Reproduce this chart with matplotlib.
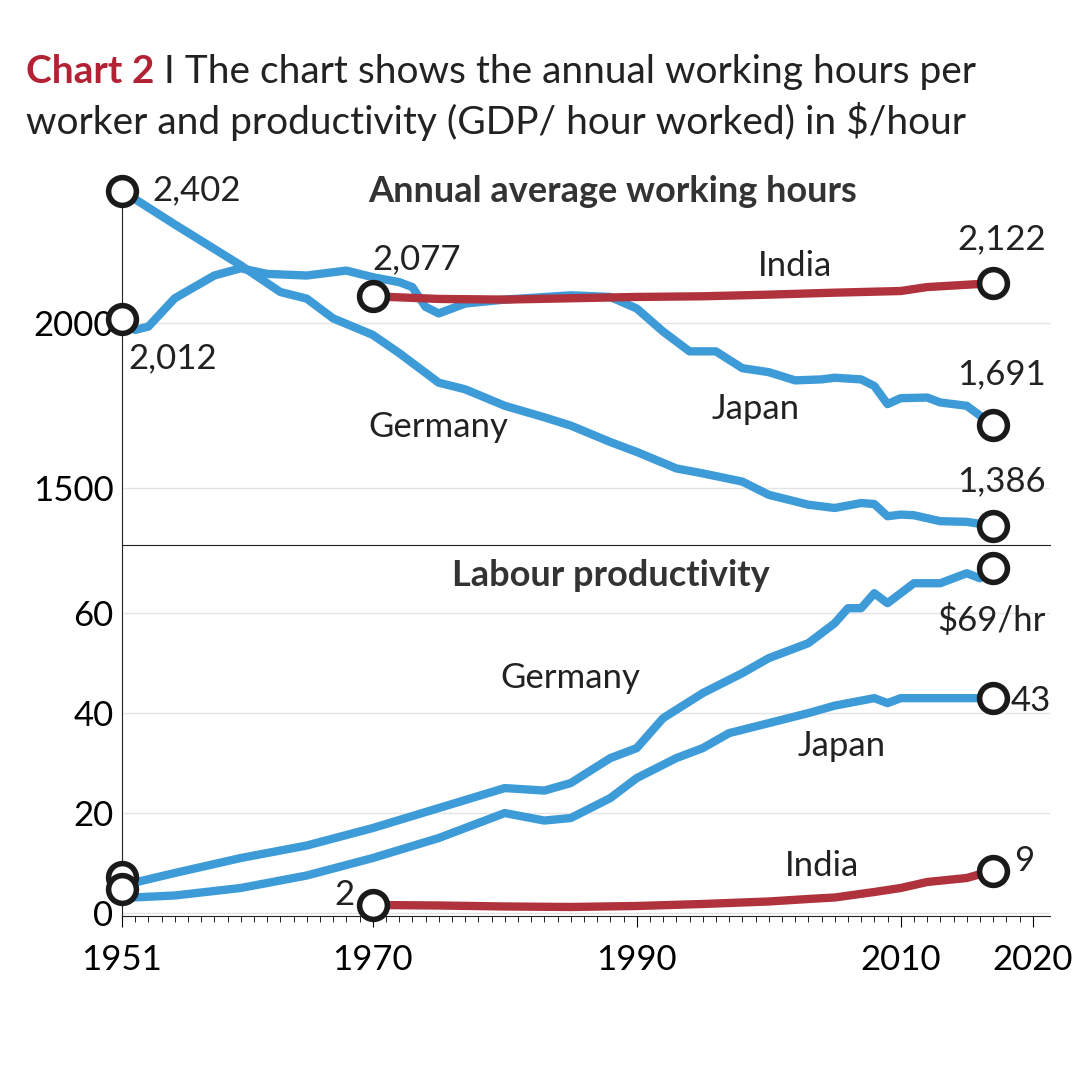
import numpy as np
import matplotlib.pyplot as plt

plt.rcParams['font.family'] = ['Lato', 'DejaVu Sans']

BLUE = '#3d9bd8'
RED = '#b0323c'

# Annual working hours
ger_h_years = [1951, 1955, 1960, 1963, 1965, 1967, 1970, 1972, 1975, 1977, 1980, 1983, 1985, 1988, 1990,
               1993, 1995, 1998, 2000, 2003, 2005, 2007, 2008, 2009, 2010, 2011, 2013, 2015, 2017]
ger_h = [2402, 2300, 2176, 2095, 2075, 2015, 1965, 1910, 1820, 1800, 1750, 1715, 1690, 1640, 1610,
         1560, 1545, 1520, 1480, 1450, 1440, 1455, 1452, 1415, 1420, 1418, 1400, 1398, 1386]
jpn_h_years = [1951, 1952, 1953, 1955, 1958, 1960, 1962, 1965, 1968, 1970, 1972, 1973, 1974, 1975, 1977,
               1980, 1985, 1988, 1990, 1992, 1994, 1996, 1998, 2000, 2002, 2004, 2005, 2007, 2008,
               2009, 2010, 2012, 2013, 2015, 2017]
jpn_h = [2012, 1980, 1990, 2076, 2145, 2167, 2150, 2145, 2160, 2140, 2125, 2110, 2050, 2030, 2060,
         2072, 2085, 2080, 2045, 1975, 1915, 1915, 1864, 1852, 1827, 1830, 1835, 1830, 1810,
         1755, 1773, 1775, 1760, 1750, 1691]
ind_h_years = [1970, 1975, 1980, 1985, 1990, 1995, 2000, 2005, 2010, 2012, 2015, 2017]
ind_h = [2082, 2074, 2072, 2076, 2080, 2082, 2087, 2093, 2098, 2110, 2117, 2122]

# Labour productivity ($/hour)
ger_p_years = [1951, 1955, 1960, 1965, 1970, 1975, 1980, 1983, 1985, 1988, 1990, 1992, 1995, 1998,
               2000, 2003, 2005, 2006, 2007, 2008, 2009, 2011, 2013, 2015, 2016, 2017]
ger_p = [5.5, 8, 11, 13.5, 17, 21, 25, 24.5, 26, 31, 33, 39, 44, 48, 51, 54, 58, 61, 61, 64, 62,
         66, 66, 68, 67, 69]
jpn_p_years = [1951, 1955, 1960, 1965, 1970, 1975, 1980, 1983, 1985, 1988, 1990, 1993, 1995, 1997,
               2000, 2003, 2005, 2008, 2009, 2010, 2012, 2014, 2016, 2017]
jpn_p = [3, 3.5, 5, 7.5, 11, 15, 20, 18.5, 19, 23, 27, 31, 33, 36, 38, 40, 41.5, 43, 42, 43,
         43, 43, 43, 43]
ind_p_years = [1970, 1975, 1980, 1985, 1990, 1995, 2000, 2003, 2005, 2008, 2010, 2012, 2015, 2017]
ind_p = [1.6, 1.5, 1.3, 1.2, 1.4, 1.8, 2.3, 2.8, 3.1, 4.2, 5, 6.2, 7, 8.5]

fig = plt.figure(figsize=(10.79, 10.84), dpi=100)
ax1 = fig.add_axes([0.113, 0.497, 0.86, 0.341])
ax2 = fig.add_axes([0.113, 0.155, 0.86, 0.342])

circ = dict(marker='o', ms=20, mfc='white', mec='#1a1a1a', mew=4, zorder=5, clip_on=False)

for ax in (ax1, ax2):
    ax.set_xlim(1951, 2021.3)
    for s in ['top', 'right']:
        ax.spines[s].set_visible(False)
    ax.spines['left'].set_color('#222')
    ax.tick_params(axis='y', length=0, labelsize=25, pad=6)
    ax.set_facecolor('none')

# top panel
ax1.set_ylim(1327, 2448)
ax1.set_yticks([1500, 2000])
ax1.grid(axis='y', color='#e4e4e4', lw=1)
ax1.spines['bottom'].set_color('#222')
ax1.set_xticks([])
ax1.plot(ger_h_years, ger_h, color=BLUE, lw=6, solid_capstyle='butt')
ax1.plot(jpn_h_years, jpn_h, color=BLUE, lw=6, solid_capstyle='butt')
ax1.plot(ind_h_years, ind_h, color=RED, lw=6, solid_capstyle='butt')
ax1.plot([ger_h_years[0], jpn_h_years[0], ind_h_years[0], ger_h_years[-1], jpn_h_years[-1], ind_h_years[-1]],
         [ger_h[0], jpn_h[0], ind_h[0], ger_h[-1], jpn_h[-1], ind_h[-1]], ls='none', **circ)
t = dict(fontsize=25, color='#222')
ax1.text(1953.3, 2405, '2,402', va='center', **t)
ax1.text(1951.5, 1895, '2,012', va='center', **t)
ax1.text(1970, 2195, '2,077', va='center', **t)
ax1.text(2021, 2255, '2,122', ha='right', va='center', **t)
ax1.text(2021, 1845, '1,691', ha='right', va='center', **t)
ax1.text(2021, 1520, '1,386', ha='right', va='center', **t)
ax1.text(2002, 2175, 'India', ha='center', va='center', **t)
ax1.text(1999, 1740, 'Japan', ha='center', va='center', **t)
ax1.text(1975, 1685, 'Germany', ha='center', va='center', **t)
ax1.text(1988.2, 2400, 'Annual average working hours', ha='center', va='center',
         fontsize=26, fontweight='bold', color='#333')

# bottom panel
ax2.set_ylim(-0.6, 73.6)
ax2.set_yticks([0, 20, 40, 60])
ax2.grid(axis='y', color='#e4e4e4', lw=1)
ax2.spines['bottom'].set_color('#222')
ax2.set_xticks([1951, 1970, 1990, 2010, 2020])
ax2.set_xticks(range(1951, 2021), minor=True)
ax2.tick_params(axis='x', which='major', length=8, labelsize=25, pad=12)
ax2.tick_params(axis='x', which='minor', length=4)
ax2.plot(ger_p_years, ger_p, color=BLUE, lw=6, solid_capstyle='butt')
ax2.plot(jpn_p_years, jpn_p, color=BLUE, lw=6, solid_capstyle='butt')
ax2.plot(ind_p_years, ind_p, color=RED, lw=6, solid_capstyle='butt')
ax2.plot([ger_p_years[0], jpn_p_years[0], ind_p_years[0], ger_p_years[-1], jpn_p_years[-1], ind_p_years[-1]],
         [7.2, 4.8, ind_p[0], ger_p[-1], jpn_p[-1], ind_p[-1]], ls='none', **circ)
ax2.text(2021, 58.5, '$69/hr', ha='right', va='center', **t)
ax2.text(2018.3, 42.5, '43', va='center', **t)
ax2.text(2018.6, 10.5, '9', va='center', **t)
ax2.text(1968.6, 3.5, '2', ha='right', va='center', **t)
ax2.text(1985, 47, 'Germany', ha='center', va='center', **t)
ax2.text(2005.5, 33.5, 'Japan', ha='center', va='center', **t)
ax2.text(2004, 9.5, 'India', ha='center', va='center', **t)
ax2.text(1988, 67.5, 'Labour productivity', ha='center', va='center',
         fontsize=26, fontweight='bold', color='#333')

# title
fig.text(0.024, 0.934, 'Chart 2', fontsize=28, fontweight='bold', color='#b22234', va='center')
fig.text(0.152, 0.934, 'I The chart shows the annual working hours per', fontsize=28, color='#222', va='center')
fig.text(0.024, 0.888, 'worker and productivity (GDP/ hour worked) in $/hour', fontsize=28, color='#222', va='center')

fig.savefig('out.png', dpi=100, facecolor='white')
